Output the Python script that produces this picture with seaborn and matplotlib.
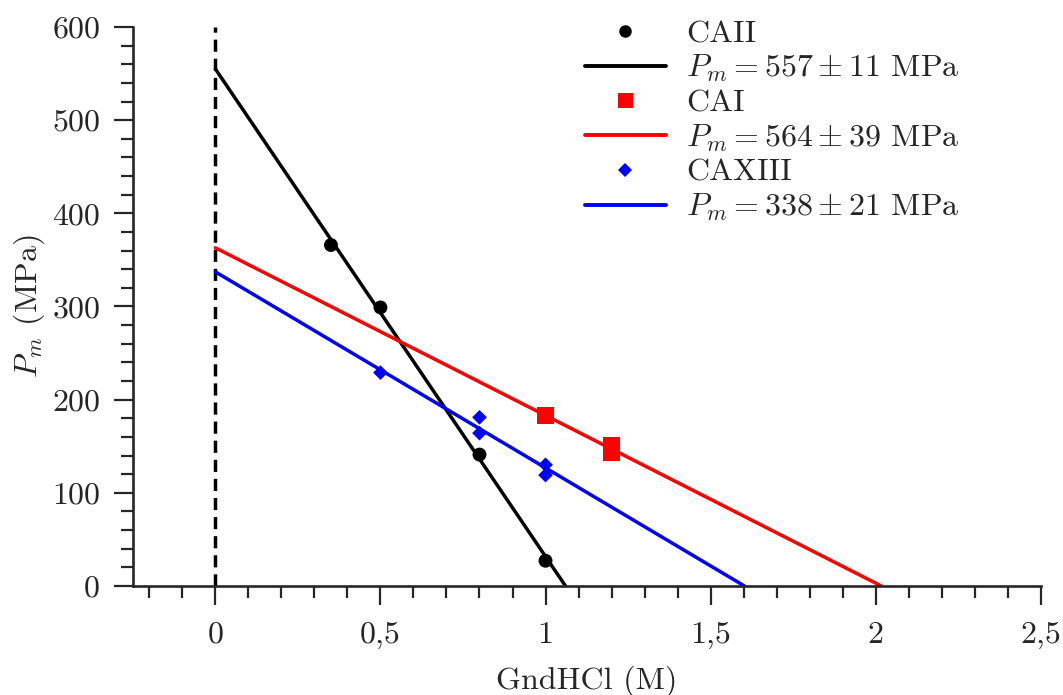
import numpy as np
import pandas as pd
import matplotlib
matplotlib.use("Agg")
import matplotlib.pyplot as plt
from matplotlib.lines import Line2D
import seaborn as sns

# ---- data ----
caii_x = [0.35, 0.5, 0.8, 1.0]
caii_y = [366, 299, 141, 27]
cai_x = [1.0, 1.2, 1.2]
cai_y = [183, 151, 143]
caxiii_x = [0.5, 0.8, 0.8, 1.0, 1.0]
caxiii_y = [229, 181, 164, 130, 119]

series_names = ["CAII", "CAI", "CAXIII"]
fit_labels = [r"$P_m = 557 \pm 11$ MPa",
              r"$P_m = 564 \pm 39$ MPa",
              r"$P_m = 338 \pm 21$ MPa"]
colors = ["black", "red", "blue"]
markers = ["o", "s", "D"]
marker_sizes = [10, 12, 7.5]

x_ticks = [0, 0.5, 1, 1.5, 2, 2.5]
x_tick_labels = ["0", "0,5", "1", "1,5", "2", "2,5"]
y_ticks = [0, 100, 200, 300, 400, 500, 600]

FS = 23

sns.set_style("ticks")
plt.rcParams["font.family"] = ["cmr10", "DejaVu Serif"]
plt.rcParams["mathtext.fontset"] = "cm"
plt.rcParams["axes.unicode_minus"] = False
plt.rcParams["font.size"] = FS

fig = plt.figure(figsize=(10.63, 6.95), dpi=100)
ax = fig.add_axes([0.125, 0.157, 0.854, 0.804])

xs = [caii_x, cai_x, caxiii_x]
ys = [caii_y, cai_y, caxiii_y]

# vertical dashed line at x = 0
ax.plot([0, 0], [0, 600], color="black", lw=2.5, ls=(0, (3.5, 2)), zorder=1)

handles = []
for name, fl, c, m, ms, x, y in zip(series_names, fit_labels, colors, markers, marker_sizes, xs, ys):
    slope, intercept = np.polyfit(x, y, 1)
    x_end = -intercept / slope
    line_df = pd.DataFrame({"x": [0.0, x_end], "y": [intercept, 0.0]})
    sns.lineplot(data=line_df, x="x", y="y", color=c, lw=2.5, ax=ax, zorder=2)
    pts = pd.DataFrame({"x": x, "y": y})
    sns.scatterplot(data=pts, x="x", y="y", color=c, marker=m, s=ms ** 2,
                    edgecolor="none", linewidth=0, ax=ax, zorder=3)
    handles.append(Line2D([], [], ls="none", marker=m, color=c, markersize=ms * 0.9,
                          markeredgewidth=0, label=name))
    handles.append(Line2D([], [], color=c, lw=2.8, label=fl))

ax.set_xlim(-0.25, 2.5)
ax.set_ylim(0, 600)
ax.set_xticks(x_ticks)
ax.set_xticklabels(x_tick_labels)
ax.set_xticks(np.arange(-0.2, 2.5, 0.1), minor=True)
ax.set_yticks(y_ticks)
ax.set_yticklabels([str(v) for v in y_ticks])
ax.set_yticks(np.arange(0, 601, 20), minor=True)

ax.tick_params(which="major", length=13.5, width=1.6, direction="out", labelsize=FS, pad=10)
ax.tick_params(which="minor", length=8.5, width=1.6, direction="out")
ax.tick_params(axis="x", pad=12)

sns.despine(ax=ax)
for s in ["left", "bottom"]:
    ax.spines[s].set_linewidth(1.9)

ax.set_xlabel("GndHCl (M)", fontsize=FS, labelpad=12)
ax.set_ylabel(r"$P_m$ (MPa)", fontsize=FS, labelpad=4)

leg = ax.legend(handles=handles, loc="upper left", bbox_to_anchor=(0.498, 1.013),
                frameon=False, fontsize=FS, handlelength=2.53, handletextpad=0.63,
                labelspacing=0.15, borderpad=0, borderaxespad=0)

fig.savefig("out.png", dpi=100)
